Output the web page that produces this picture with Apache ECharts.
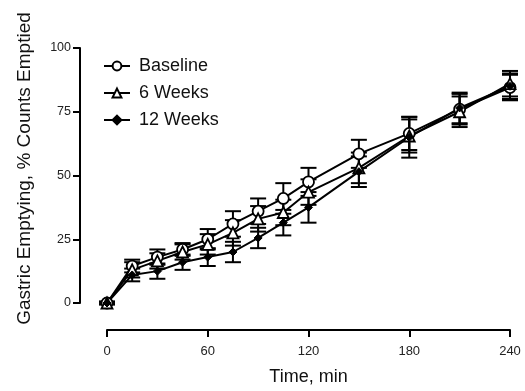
<!DOCTYPE html>
<html>
<head>
<meta charset="utf-8">
<script src="https://cdn.jsdelivr.net/npm/echarts@6/dist/echarts.min.js"></script>
<style>
html,body{margin:0;padding:0;background:#fff;}
#c{width:525px;height:391px;}
</style>
</head>
<body>
<div id="c"></div>
<script>
var time = [0, 15, 30, 45, 60, 75, 90, 105, 120, 150, 180, 210, 240];
var baseline = [0, 14.5, 18, 21, 25, 31, 36, 41, 47.5, 58.5, 66.5, 76, 84.5];
var weeks6 = [0, 13, 16.5, 20, 23, 27.5, 33, 35.5, 43.5, 53, 65.5, 75, 86];
var weeks12 = [0, 11, 12.5, 16, 18, 20, 25.5, 31.5, 37.5, 51.5, 65, 76.5, 85];
var baselineErr = [0.5, 2.5, 3, 2.5, 4, 5, 5, 6, 5.5, 5.5, 6.5, 6, 5];
var weeks6Err = [0.5, 3, 3, 3, 4, 5, 5, 5, 5, 6, 6.5, 6, 5];
var weeks12Err = [0.5, 2.5, 3, 3, 3.5, 4, 4, 5, 6, 6, 8, 6, 5];
var seriesNames = ['Baseline', '6 Weeks', '12 Weeks'];
var xTicks = [0, 60, 120, 180, 240];
var yTicks = [0, 25, 50, 75, 100];

var FONT = '"Liberation Sans", Arial, Helvetica, sans-serif';
var chart = echarts.init(document.getElementById('c'));

function errData(vals, errs) {
  return time.map(function (t, i) { return [t, vals[i], vals[i] - errs[i], vals[i] + errs[i]]; });
}
function errRender(params, api) {
  var x = api.value(0);
  var hi = api.coord([x, api.value(3)]);
  var lo = api.coord([x, api.value(2)]);
  var w = 8;
  var st = {stroke: '#000', lineWidth: 2};
  return {
    type: 'group',
    children: [
      {type: 'line', shape: {x1: hi[0], y1: hi[1], x2: lo[0], y2: lo[1]}, style: st},
      {type: 'line', shape: {x1: hi[0] - w, y1: hi[1], x2: hi[0] + w, y2: hi[1]}, style: st},
      {type: 'line', shape: {x1: lo[0] - w, y1: lo[1], x2: lo[0] + w, y2: lo[1]}, style: st}
    ]
  };
}
function pts(vals) { return time.map(function (t, i) { return [t, vals[i]]; }); }

var errSeries = [[baseline, baselineErr], [weeks6, weeks6Err], [weeks12, weeks12Err]].map(function (p, k) {
  return {
    type: 'custom', name: 'err' + k, renderItem: errRender, data: errData(p[0], p[1]),
    encode: {x: 0, y: [1, 2, 3]}, clip: false, z: 1, silent: true
  };
});

var lineBase = {
  type: 'line', z: 3, lineStyle: {color: '#000', width: 2}, emphasis: {disabled: true}, animation: false
};

chart.setOption({
  animation: false,
  backgroundColor: '#fff',
  textStyle: {fontFamily: FONT},
  grid: {left: 107, right: 15, top: 48, bottom: 81},
  legend: {
    orient: 'vertical', left: 98, top: 52, itemGap: 9, itemWidth: 26, itemHeight: 11,
    data: seriesNames,
    textStyle: {fontFamily: FONT, fontSize: 18, color: '#111', lineHeight: 18, padding: [0, 0, 0, 4]}
  },
  xAxis: {
    type: 'value', min: 0, max: 240, interval: 60, offset: 27,
    name: 'Time, min', nameLocation: 'middle', nameGap: 38,
    nameTextStyle: {fontFamily: FONT, fontSize: 18, color: '#111'},
    axisLine: {show: true, onZero: false, lineStyle: {color: '#000', width: 2}},
    axisTick: {show: true, length: 7, lineStyle: {color: '#000', width: 2}},
    axisLabel: {fontFamily: FONT, fontSize: 13, color: '#222', margin: 15,
      formatter: function (v) { return xTicks.indexOf(v) >= 0 ? String(v) : ''; }},
    splitLine: {show: false}
  },
  yAxis: {
    type: 'value', min: 0, max: 100, interval: 25, offset: 27,
    name: 'Gastric Emptying, % Counts Emptied', nameLocation: 'middle', nameGap: 46,
    nameTextStyle: {fontFamily: FONT, fontSize: 19, color: '#111', padding: [0, 0, 0, 14]},
    axisLine: {show: true, onZero: false, lineStyle: {color: '#000', width: 2}},
    axisTick: {show: true, length: 7, lineStyle: {color: '#000', width: 2}},
    axisLabel: {fontFamily: FONT, fontSize: 12.5, color: '#222', margin: 9,
      formatter: function (v) { return yTicks.indexOf(v) >= 0 ? String(v) : ''; }},
    splitLine: {show: false}
  },
  series: errSeries.concat([
    Object.assign({}, lineBase, {
      name: seriesNames[0], data: pts(baseline), symbol: 'circle', symbolSize: 11,
      itemStyle: {color: '#fff', borderColor: '#000', borderWidth: 1.8}
    }),
    Object.assign({}, lineBase, {
      name: seriesNames[1], data: pts(weeks6), symbol: 'triangle', symbolSize: 11,
      itemStyle: {color: '#fff', borderColor: '#000', borderWidth: 1.8}
    }),
    Object.assign({}, lineBase, {
      name: seriesNames[2], data: pts(weeks12), symbol: 'diamond', symbolSize: 8,
      itemStyle: {color: '#000', borderColor: '#000', borderWidth: 1}
    })
  ])
});
</script>
</body>
</html>
